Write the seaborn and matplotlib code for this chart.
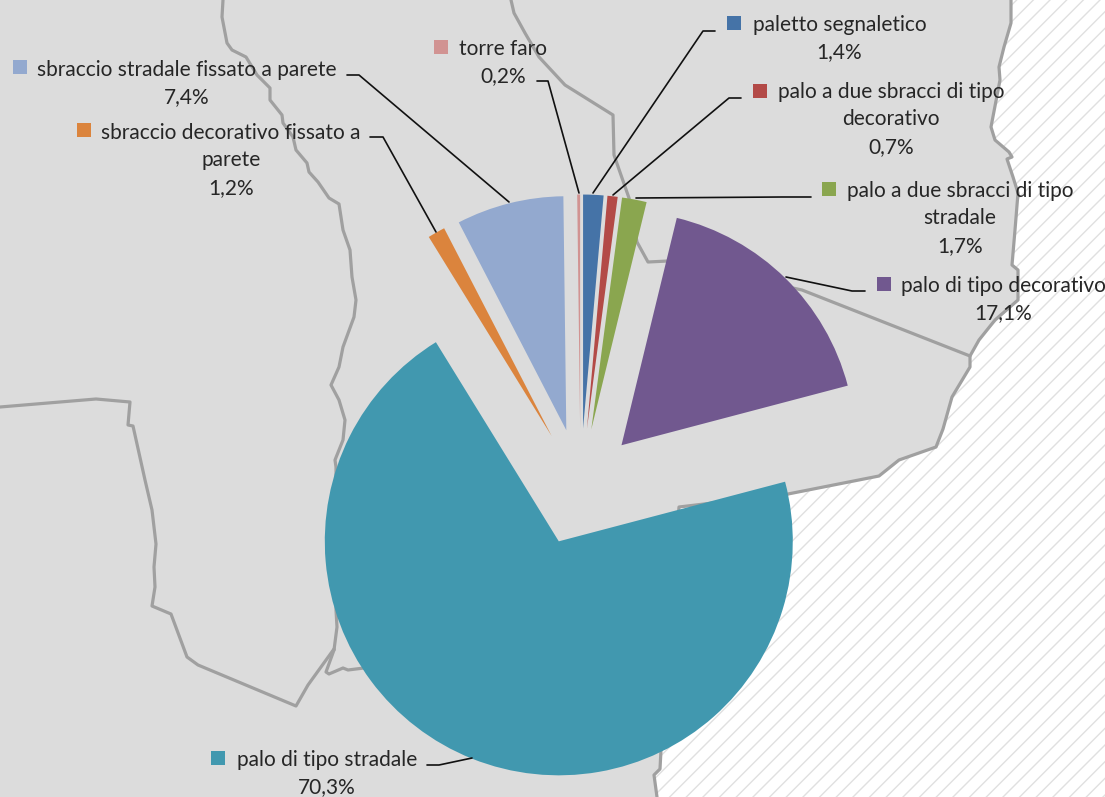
import matplotlib
matplotlib.use("Agg")
import matplotlib.pyplot as plt
import seaborn as sns

W, H = 1105, 797
RADIUS = 234

# --- chart data ---
categories = ["paletto segnaletico", "palo a due sbracci di tipo\ndecorativo",
              "palo a due sbracci di tipo\nstradale", "palo di tipo decorativo",
              "palo di tipo stradale", "sbraccio decorativo fissato a\nparete",
              "sbraccio stradale fissato a parete", "torre faro"]
values = [1.4, 0.7, 1.7, 17.1, 70.3, 1.2, 7.4, 0.2]
slice_colors = ["#4573A7", "#B34A47", "#8AA64F", "#71588F",
                "#4198AF", "#DB843D", "#93A9CF", "#D19392"]

# label layout (pixel positions: text centre, first line y, key left)
label_cx = [839.5, 891, 960, 1003.5, 327, 231, 187, 503]
label_y0 = [25, 92, 191, 286, 760, 133, 70, 49]
key_cx = [733.5, 759.5, 829, 883.5, 217.5, 84, 19.5, 440.5]
key_cy = [23, 91, 189, 283.5, 758, 130, 67, 46.5]
leaders = [
    [(715, 31), (703, 31), (593, 193)],
    [(741, 98), (729, 98), (613, 195)],
    [(811, 197), (782, 197), (636, 198)],
    [(865, 291), (852, 291), (786, 277)],
    [(427, 765), (439, 765), (472, 758)],
    [(370, 137), (383, 137), (436, 232)],
    [(347, 75), (359, 75), (509, 202)],
    [(537, 81), (548, 81), (579, 193)],
]

# --- background map outlines (pixel coordinates) ---
coast = [(1011, 0), (1011, 23), (1004, 47), (999, 67), (1000, 80), (991, 127), (995, 140),
         (1009, 152), (1012, 157), (1007, 159), (1013, 177), (1018, 193), (1015, 230),
         (1012, 265), (1018, 270), (1018, 300), (995, 320), (979, 340), (970, 356),
         (970, 367), (952, 397), (943, 429), (936, 447), (899, 460), (879, 476),
         (788, 494), (679, 507), (670, 620), (661, 750), (660, 769), (654, 775), (657, 797)]
border_a = [(223, 0), (222, 17), (227, 43), (232, 50), (246, 57), (257, 75), (270, 88), (270, 100),
            (282, 115), (283, 123), (293, 137), (296, 150), (307, 163), (309, 172), (318, 182),
            (329, 198), (339, 204), (343, 230), (350, 250), (352, 277), (356, 300), (354, 317),
            (343, 347), (339, 367), (331, 385), (339, 400), (345, 420), (343, 440), (335, 460),
            (336, 467), (336, 610), (337, 627), (334, 650)]
border_b = [(0, 407), (96, 399), (130, 402), (128, 425), (133, 426), (145, 480), (152, 510),
            (156, 544), (154, 567), (155, 587), (152, 606), (171, 614), (187, 657), (198, 665),
            (296, 706), (308, 685), (334, 649)]
border_c = [(334, 650), (326, 672), (329, 674), (343, 668), (348, 670), (364, 668)]
border_d = [(511, 0), (514, 13), (525, 33), (539, 57), (565, 85), (613, 115), (614, 155),
            (629, 198), (637, 242), (648, 262), (668, 261), (802, 290), (970, 356)]

sns.set_theme(style="white")
plt.rcParams["font.family"] = ["Lato", "DejaVu Sans"]
plt.rcParams["hatch.linewidth"] = 1.0

land = "#DCDCDC"
line_col = "#A0A0A0"
text_col = "#262626"

fig = plt.figure(figsize=(W / 100, H / 100), dpi=100, facecolor=land)
ax = fig.add_axes([0, 0, 1, 1], facecolor=land)


def flip(pts):
    return [p[0] for p in pts], [H - p[1] for p in pts]


# sea with hatching
sx, sy = flip(coast + [(W, H), (W, 0)])
ax.fill(sx, sy, facecolor="white", edgecolor="#E0E0E0", hatch="//", linewidth=0, zorder=1)

for path in (coast, border_a, border_b, border_c, border_d):
    x, y = flip(path)
    sns.lineplot(x=x, y=y, sort=False, estimator=None, color=line_col, linewidth=2.3,
                 ax=ax, zorder=2, legend=False)

palette = sns.color_palette(slice_colors)
ax.pie(values, explode=[0.25 * RADIUS] * len(values), colors=palette, startangle=90,
       counterclock=False, center=(580.5, H - 487), radius=RADIUS, frame=True,
       wedgeprops={"linewidth": 0, "zorder": 3})

ax.set_xlim(0, W)
ax.set_ylim(0, H)
ax.set_aspect("auto")
ax.set_xticks([])
ax.set_yticks([])
for s in ax.spines.values():
    s.set_visible(False)

pitch = 27.3
for cat, val, cx, y0, kx, ky, lead, col in zip(categories, values, label_cx, label_y0,
                                               key_cx, key_cy, leaders, palette):
    lines = cat.split("\n") + [f"{val:.1f}%".replace(".", ",")]
    for i, line in enumerate(lines):
        ax.text(cx, H - (y0 + i * pitch), line, ha="center", va="center", fontsize=15,
                color=text_col, zorder=6)
    ax.scatter([kx], [H - ky], marker="s", s=88, color=[col], linewidth=0, zorder=6)
    lx, ly = flip(lead)
    ax.plot(lx, ly, color="#111111", linewidth=1.2, zorder=5, solid_joinstyle="round")

fig.savefig("out.png", dpi=100, facecolor=land)
